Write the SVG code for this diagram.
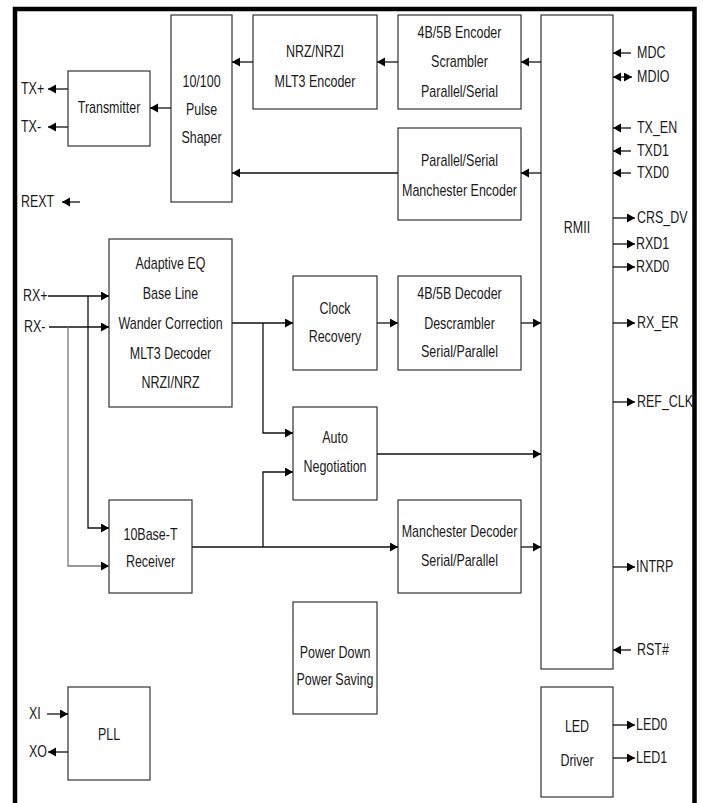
<svg xmlns="http://www.w3.org/2000/svg" width="703" height="803" viewBox="0 0 703 803">
<style>
.box{fill:#fff;stroke:#333;stroke-width:1.2}
.ln{fill:none;stroke:#111;stroke-width:1.3}
.lg{fill:none;stroke:#777;stroke-width:1.3}
.ar{marker-end:url(#ah)}
text{font-family:"Liberation Sans",Arial,sans-serif;font-size:16px;fill:#1a1a1a}
.c{text-anchor:middle}
</style>
<defs>
<marker id="ah" markerUnits="userSpaceOnUse" markerWidth="10" markerHeight="10" refX="8" refY="4.5" orient="auto">
<path d="M0,0 L8,4.5 L0,9 Z" fill="#000"/>
</marker>
<marker id="ahs" markerUnits="userSpaceOnUse" markerWidth="10" markerHeight="10" refX="8" refY="4.5" orient="auto-start-reverse">
<path d="M0,0 L8,4.5 L0,9 Z" fill="#000"/>
</marker>
</defs>
<rect width="703" height="803" fill="#fff"/>
<path d="M15,803 V9 H694.5 V803" fill="none" stroke="#000" stroke-width="4.5"/>

<g id="pulse"><rect class="box" x="171" y="15" width="61" height="187"/><text class="c" transform="translate(201.5,87) scale(0.78,1)">10/100</text><text class="c" transform="translate(201.5,115) scale(0.78,1)">Pulse</text><text class="c" transform="translate(201.5,143) scale(0.78,1)">Shaper</text></g>
<g id="transmitter"><rect class="box" x="68" y="71" width="82" height="75"/><text class="c" transform="translate(109,113) scale(0.78,1)">Transmitter</text></g>
<g id="nrz"><rect class="box" x="253" y="15" width="124" height="94"/><text class="c" transform="translate(315,57) scale(0.78,1)">NRZ/NRZI</text><text class="c" transform="translate(315,87) scale(0.78,1)">MLT3 Encoder</text></g>
<g id="enc4b5b"><rect class="box" x="398" y="15" width="123" height="94"/><text class="c" transform="translate(459.5,38) scale(0.78,1)">4B/5B Encoder</text><text class="c" transform="translate(459.5,67) scale(0.78,1)">Scrambler</text><text class="c" transform="translate(459.5,97) scale(0.78,1)">Parallel/Serial</text></g>
<g id="manenc"><rect class="box" x="398" y="128" width="123" height="92"/><text class="c" transform="translate(459.5,166) scale(0.78,1)">Parallel/Serial</text><text class="c" transform="translate(459.5,196) scale(0.78,1)">Manchester Encoder</text></g>
<g id="rmii"><rect class="box" x="541" y="15" width="72" height="654"/><text class="c" transform="translate(577,233) scale(0.78,1)">RMII</text></g>
<g id="adaptive"><rect class="box" x="109" y="239" width="123" height="168"/><text class="c" transform="translate(170.5,269) scale(0.78,1)">Adaptive EQ</text><text class="c" transform="translate(170.5,299) scale(0.78,1)">Base Line</text><text class="c" transform="translate(170.5,329) scale(0.78,1)">Wander Correction</text><text class="c" transform="translate(170.5,359) scale(0.78,1)">MLT3 Decoder</text><text class="c" transform="translate(170.5,388) scale(0.78,1)">NRZI/NRZ</text></g>
<g id="clock"><rect class="box" x="293" y="276" width="84" height="94"/><text class="c" transform="translate(335,314) scale(0.78,1)">Clock</text><text class="c" transform="translate(335,342) scale(0.78,1)">Recovery</text></g>
<g id="dec4b5b"><rect class="box" x="398" y="276" width="123" height="94"/><text class="c" transform="translate(459.5,299) scale(0.78,1)">4B/5B Decoder</text><text class="c" transform="translate(459.5,329) scale(0.78,1)">Descrambler</text><text class="c" transform="translate(459.5,357) scale(0.78,1)">Serial/Parallel</text></g>
<g id="autoneg"><rect class="box" x="293" y="407" width="84" height="93"/><text class="c" transform="translate(335,443) scale(0.78,1)">Auto</text><text class="c" transform="translate(335,472) scale(0.78,1)">Negotiation</text></g>
<g id="rx10"><rect class="box" x="109" y="500" width="83" height="93"/><text class="c" transform="translate(150.5,540) scale(0.78,1)">10Base-T</text><text class="c" transform="translate(150.5,567) scale(0.78,1)">Receiver</text></g>
<g id="mandec"><rect class="box" x="398" y="500" width="123" height="93"/><text class="c" transform="translate(459.5,537) scale(0.78,1)">Manchester Decoder</text><text class="c" transform="translate(459.5,566) scale(0.78,1)">Serial/Parallel</text></g>
<g id="power"><rect class="box" x="293" y="602" width="84" height="112"/><text class="c" transform="translate(335,658) scale(0.78,1)">Power Down</text><text class="c" transform="translate(335,685) scale(0.78,1)">Power Saving</text></g>
<g id="pll"><rect class="box" x="68" y="687" width="82" height="93"/><text class="c" transform="translate(109,740) scale(0.78,1)">PLL</text></g>
<g id="led"><rect class="box" x="541" y="687" width="72" height="110"/><text class="c" transform="translate(577,732) scale(0.78,1)">LED</text><text class="c" transform="translate(577,766) scale(0.78,1)">Driver</text></g>

<g id="connectors">
<path class="ln ar" d="M253,62 H232"/>
<path class="ln ar" d="M398,62 H377"/>
<path class="ln ar" d="M541,62 H521"/>
<path class="ln ar" d="M541,173 H521"/>
<path class="ln ar" d="M398,173 H232"/>
<path class="ln ar" d="M171,108 H150"/>
<path class="ln ar" d="M68,89 H48"/>
<path class="ln ar" d="M68,127 H48"/>
<path class="ln ar" d="M80,202 H62"/>
<path class="ln ar" d="M48,296 H109"/>
<path class="ln ar" d="M49,327 H109"/>
<path class="ln ar" d="M88,296 V528 H109"/>
<path class="lg ar" d="M68,327 V566 H109"/>
<path class="ln ar" d="M232,323 H293"/>
<path class="ln ar" d="M263,323 V433 H293"/>
<path class="ln ar" d="M377,323 H398"/>
<path class="ln ar" d="M521,323 H541"/>
<path class="ln ar" d="M377,454 H541"/>
<path class="ln ar" d="M192,547 H398"/>
<path class="ln ar" d="M263,547 V472 H293"/>
<path class="ln ar" d="M521,547 H541"/>
<path class="ln ar" d="M47,714 H68"/>
<path class="ln ar" d="M68,752 H48"/>
<path class="ln ar" d="M631,53 H613"/>
<path class="ln ar" d="M613,77 H632" marker-start="url(#ahs)"/>
<path class="ln ar" d="M631,128 H613"/>
<path class="ln ar" d="M631,151 H613"/>
<path class="ln ar" d="M631,173 H613"/>
<path class="ln ar" d="M613,218 H635"/>
<path class="ln ar" d="M613,244 H635"/>
<path class="ln ar" d="M613,267 H635"/>
<path class="ln ar" d="M613,323 H635"/>
<path class="ln ar" d="M613,402 H635"/>
<path class="ln ar" d="M613,567 H635"/>
<path class="ln ar" d="M631,650 H613"/>
<path class="ln ar" d="M613,725 H635"/>
<path class="ln ar" d="M613,758 H635"/>
</g>

<g id="labels">
<text transform="translate(21,94) scale(0.78,1)">TX+</text>
<text transform="translate(21,132) scale(0.78,1)">TX-</text>
<text transform="translate(21,207) scale(0.78,1)">REXT</text>
<text transform="translate(23,301) scale(0.78,1)">RX+</text>
<text transform="translate(24,332) scale(0.78,1)">RX-</text>
<text transform="translate(29,719) scale(0.78,1)">XI</text>
<text transform="translate(29,757) scale(0.78,1)">XO</text>
<text transform="translate(637,58) scale(0.78,1)">MDC</text>
<text transform="translate(637,82) scale(0.78,1)">MDIO</text>
<text transform="translate(637,133) scale(0.78,1)">TX_EN</text>
<text transform="translate(637,156) scale(0.78,1)">TXD1</text>
<text transform="translate(637,178) scale(0.78,1)">TXD0</text>
<text transform="translate(637,223) scale(0.78,1)">CRS_DV</text>
<text transform="translate(636,249) scale(0.78,1)">RXD1</text>
<text transform="translate(636,272) scale(0.78,1)">RXD0</text>
<text transform="translate(637,328) scale(0.78,1)">RX_ER</text>
<text transform="translate(637,407) scale(0.78,1)">REF_CLK</text>
<text transform="translate(636,572) scale(0.78,1)">INTRP</text>
<text transform="translate(637,655) scale(0.78,1)">RST#</text>
<text transform="translate(636,730) scale(0.78,1)">LED0</text>
<text transform="translate(636,763) scale(0.78,1)">LED1</text>
</g>
</svg>
